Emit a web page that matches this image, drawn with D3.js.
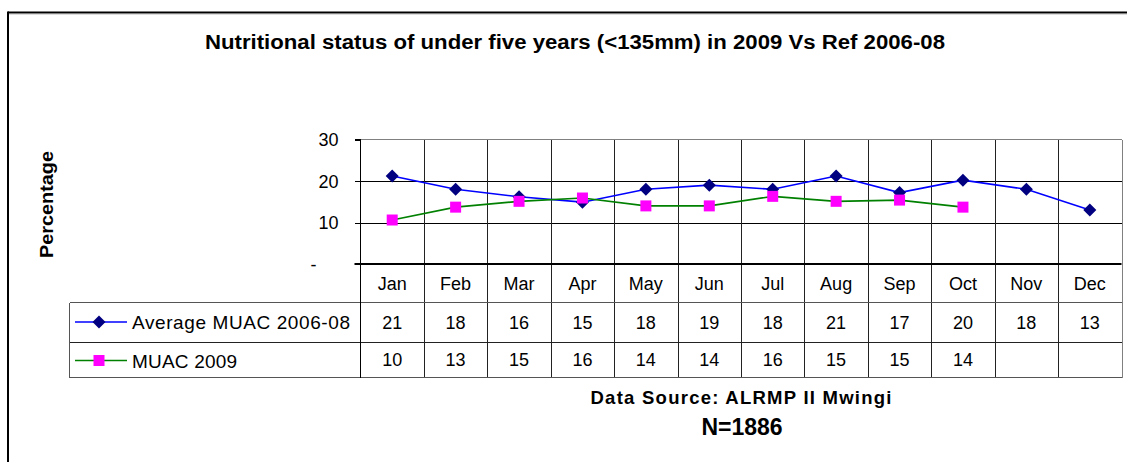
<!DOCTYPE html>
<html>
<head>
<meta charset="utf-8">
<script src="https://cdn.jsdelivr.net/npm/d3@7"></script>
<style>
  html, body { margin: 0; padding: 0; background: #fff; }
  svg { display: block; font-family: "Liberation Sans", Arial, sans-serif; }
</style>
</head>
<body>
<svg id="chart" width="1127" height="462"></svg>
<script>
// ---- data ----
const months = ["Jan","Feb","Mar","Apr","May","Jun","Jul","Aug","Sep","Oct","Nov","Dec"];
const avgValues = [21.2, 18.0, 16.2, 14.9, 18.0, 19.0, 18.0, 21.2, 17.2, 20.2, 18.0, 13.0];
const muacValues = [10.6, 13.7, 15.1, 15.9, 14.0, 14.0, 16.3, 15.1, 15.4, 13.7];
const avgLabels = ["21","18","16","15","18","19","18","21","17","20","18","13"];
const muacLabels = ["10","13","15","16","14","14","16","15","15","14","",""];
const seriesNames = ["Average MUAC 2006-08", "MUAC 2009"];
const yTickValues = [0, 10, 20, 30];
const yTickLabels = ["-", "10", "20", "30"];
const titleText = "Nutritional status of under five years (<135mm) in 2009 Vs Ref 2006-08";
const yAxisTitle = "Percentage";
const sourceText = "Data Source: ALRMP II Mwingi";
const nText = "N=1886";

// ---- layout ----
const svg = d3.select("#chart");
const plotLeft = 360.5, plotRight = 1121.5, plotTop = 139.5, plotBottom = 264;
const legendLeft = 69.5;
const rowLines = [302.5, 342.5, 377.5];
const fs = 18;

const x = d3.scaleBand().domain(months).range([plotLeft, plotRight]);
const y = d3.scaleLinear().domain([0, 30]).range([plotBottom, plotTop]);

// frame
svg.append("line").attr("x1", 8).attr("x2", 1127).attr("y1", 12.5).attr("y2", 12.5)
  .attr("stroke", "#000").attr("stroke-width", 2);
svg.append("line").attr("x1", 8).attr("x2", 1127).attr("y1", 14.5).attr("y2", 14.5)
  .attr("stroke", "#ddd").attr("stroke-width", 1);
svg.append("line").attr("x1", 8).attr("x2", 8).attr("y1", 11.5).attr("y2", 462)
  .attr("stroke", "#000").attr("stroke-width", 2);

// title
svg.append("text").attr("x", 575).attr("y", 49).attr("text-anchor", "middle")
  .attr("font-size", 20).attr("font-weight", "bold").attr("fill", "#000")
  .attr("textLength", 740).attr("lengthAdjust", "spacingAndGlyphs")
  .text(titleText);

// y axis title
svg.append("text").attr("transform", "translate(53,204.5) rotate(-90)")
  .attr("text-anchor", "middle").attr("font-size", 18.5).attr("font-weight", "bold")
  .attr("textLength", 107).attr("lengthAdjust", "spacingAndGlyphs")
  .text(yAxisTitle);

const g = svg.append("g").attr("shape-rendering", "crispEdges");

// plot border (top) gray
g.append("line").attr("x1", plotLeft).attr("x2", plotRight).attr("y1", plotTop).attr("y2", plotTop)
  .attr("stroke", "#808080");

// horizontal gridlines
g.append("g").attr("transform", `translate(${plotLeft},0)`)
  .call(d3.axisLeft(y).tickValues([10, 20]).tickSize(-(plotRight - plotLeft)).tickFormat(""))
  .call(s => s.select(".domain").remove())
  .call(s => s.selectAll("line").attr("stroke", "#000"));

// vertical gridlines (column boundaries), through plot and table
const boundaries = months.map(m => x(m)).concat([plotRight]);
g.append("g").selectAll("line").data(boundaries.slice(1)).join("line")
  .attr("x1", d => Math.round(d) + 0.5).attr("x2", d => Math.round(d) + 0.5)
  .attr("y1", plotTop).attr("y2", rowLines[2])
  .attr("stroke", (d, i) => i === boundaries.length - 2 ? "#808080" : "#222");

// table horizontal lines
g.append("line").attr("x1", legendLeft).attr("x2", plotRight).attr("y1", rowLines[0]).attr("y2", rowLines[0]).attr("stroke", "#555");
g.append("line").attr("x1", legendLeft).attr("x2", plotRight).attr("y1", rowLines[1]).attr("y2", rowLines[1]).attr("stroke", "#222");
g.append("line").attr("x1", legendLeft).attr("x2", plotRight).attr("y1", rowLines[2]).attr("y2", rowLines[2]).attr("stroke", "#555");
g.append("line").attr("x1", legendLeft).attr("x2", legendLeft).attr("y1", rowLines[0]).attr("y2", rowLines[2]).attr("stroke", "#555");

// y axis
const yAxis = svg.append("g").attr("transform", `translate(${plotLeft},0)`)
  .call(d3.axisLeft(y).tickValues(yTickValues).tickSize(6).tickPadding(16)
    .tickFormat((d, i) => yTickLabels[i]));
yAxis.attr("shape-rendering", "crispEdges");
yAxis.select(".domain").attr("d", `M-6,${plotTop}H0V${rowLines[2]}`).attr("stroke", "#000").attr("stroke-width", 1.5);
yAxis.selectAll(".tick line").attr("stroke", "#000");
yAxis.selectAll(".tick text").attr("font-size", fs).attr("font-family", "Liberation Sans, Arial, sans-serif")
  .attr("fill", "#000").attr("dy", "0.36em");
yAxis.selectAll(".tick").filter(d => d === 0).select("text").attr("x", -44);

// x axis line (y=0) thicker
svg.append("line").attr("x1", plotLeft - 6).attr("x2", plotRight).attr("y1", plotBottom).attr("y2", plotBottom)
  .attr("stroke", "#000").attr("stroke-width", 2);

// month labels
svg.append("g").selectAll("text").data(months).join("text")
  .attr("x", d => x(d) + x.bandwidth() / 2).attr("y", 290)
  .attr("text-anchor", "middle").attr("font-size", fs).text(d => d);

// table values
svg.append("g").selectAll("text").data(avgLabels).join("text")
  .attr("x", (d, i) => x(months[i]) + x.bandwidth() / 2).attr("y", 329)
  .attr("text-anchor", "middle").attr("font-size", fs).text(d => d);
svg.append("g").selectAll("text").data(muacLabels).join("text")
  .attr("x", (d, i) => x(months[i]) + x.bandwidth() / 2).attr("y", 366)
  .attr("text-anchor", "middle").attr("font-size", fs).text(d => d);

// symbols
const diamondType = {
  draw(ctx, size) {
    const r = Math.sqrt(size) / 2;
    ctx.moveTo(0, -r); ctx.lineTo(r, 0); ctx.lineTo(0, r); ctx.lineTo(-r, 0); ctx.closePath();
  }
};
const diamond = d3.symbol().type(diamondType).size(13 * 13);
const square = d3.symbol().type(d3.symbolSquare).size(11 * 11);

const line = d3.line().x((d, i) => x(months[i]) + x.bandwidth() / 2).y(d => y(d));

// lines
svg.append("path").datum(avgValues).attr("d", line).attr("fill", "none")
  .attr("stroke", "#0000FF").attr("stroke-width", 1.6);
svg.append("path").datum(muacValues).attr("d", line).attr("fill", "none")
  .attr("stroke", "#008000").attr("stroke-width", 1.6);

svg.append("g").selectAll("path").data(avgValues).join("path")
  .attr("transform", (d, i) => `translate(${x(months[i]) + x.bandwidth() / 2},${y(d)})`)
  .attr("d", diamond).attr("fill", "#000080");
svg.append("g").selectAll("path").data(muacValues).join("path")
  .attr("transform", (d, i) => `translate(${x(months[i]) + x.bandwidth() / 2},${y(d)})`)
  .attr("d", square).attr("fill", "#FF00FF");

// legend in table
const legRows = [
  { name: seriesNames[0], yc: 322, color: "#0000FF", mark: diamond, mcolor: "#000080", w: 218 },
  { name: seriesNames[1], yc: 360.5, color: "#008000", mark: square, mcolor: "#FF00FF", w: 105 }
];
legRows.forEach(r => {
  svg.append("line").attr("x1", 75).attr("x2", 127).attr("y1", r.yc).attr("y2", r.yc)
    .attr("stroke", r.color).attr("stroke-width", 1.6);
  svg.append("path").attr("transform", `translate(99,${r.yc})`).attr("d", r.mark).attr("fill", r.mcolor);
  svg.append("text").attr("x", 132).attr("y", r.yc + 7).attr("font-size", 19)
    .attr("textLength", r.w).attr("lengthAdjust", "spacing").text(r.name);
});

// source notes
svg.append("text").attr("x", 741).attr("y", 404).attr("text-anchor", "middle")
  .attr("font-size", 18.5).attr("font-weight", "bold")
  .attr("textLength", 301).attr("lengthAdjust", "spacing").text(sourceText);
svg.append("text").attr("x", 742).attr("y", 435).attr("text-anchor", "middle")
  .attr("font-size", 23).attr("font-weight", "bold").text(nText);
</script>
</body>
</html>
